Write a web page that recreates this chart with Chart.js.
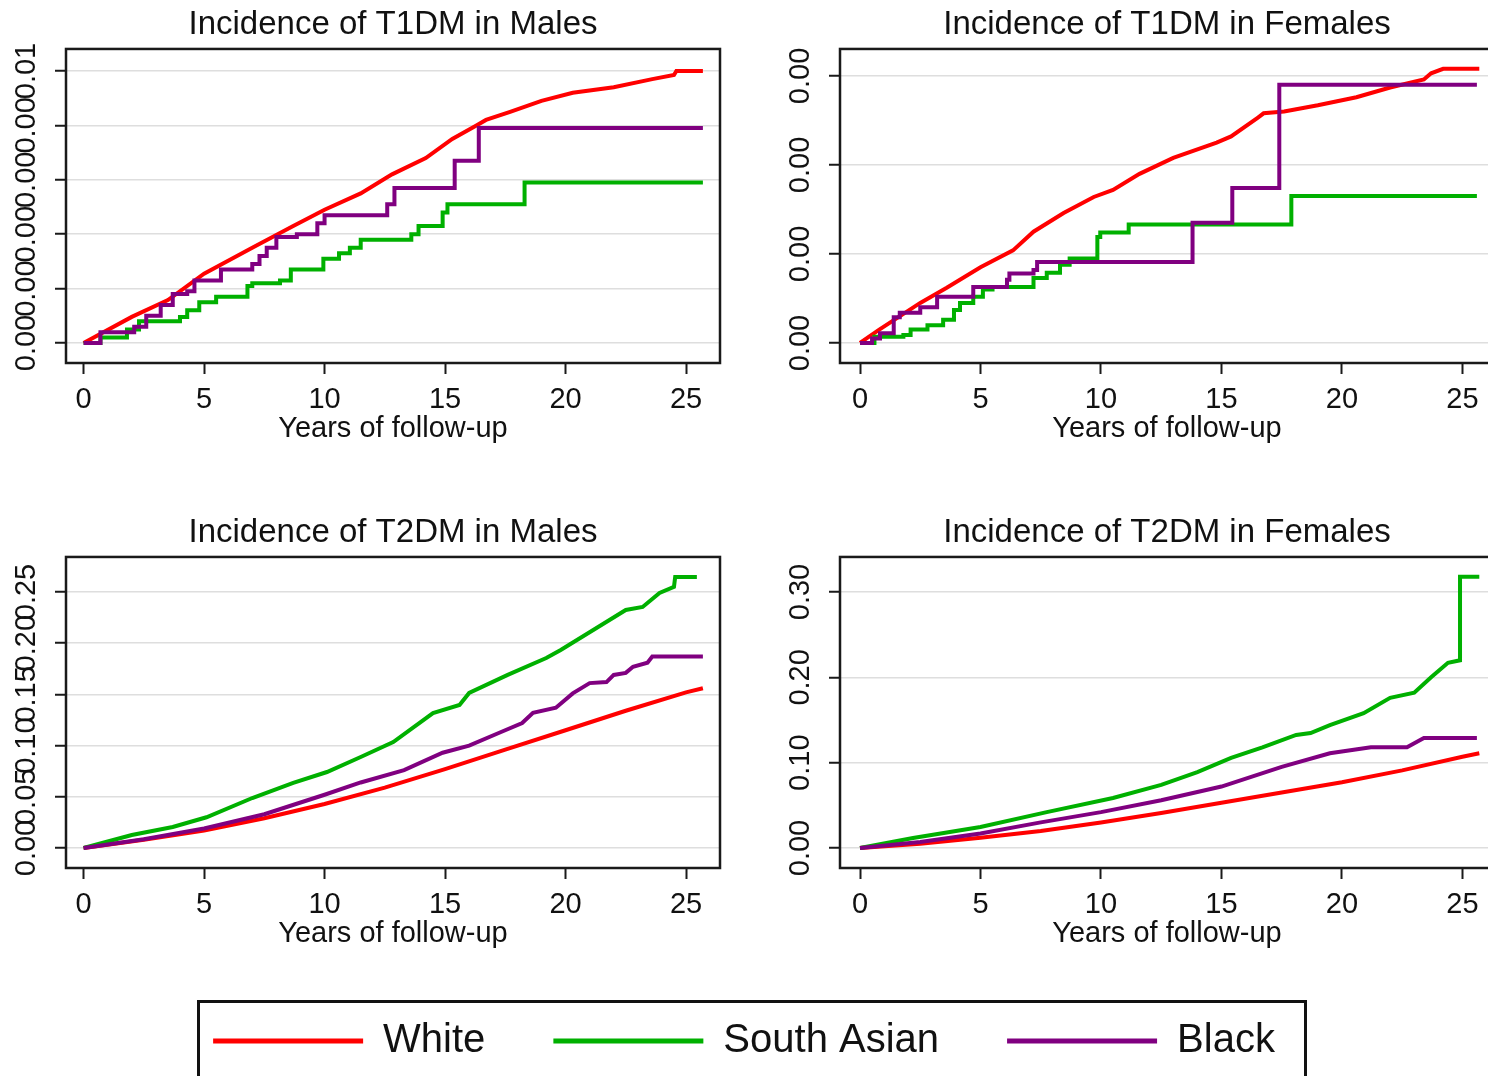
<!DOCTYPE html>
<html>
<head>
<meta charset="utf-8">
<title>Incidence of T1DM and T2DM</title>
<script src="https://cdn.jsdelivr.net/npm/chart.js"></script>
<style>
  html, body { margin: 0; padding: 0; background: #fff; }
  body { position: relative; width: 1488px; height: 1076px; overflow: hidden; }
  canvas { position: absolute; }
  #legendBox { position: absolute; left: 197px; top: 1000px; width: 1110px; height: 100px;
               border: 3px solid #111; box-sizing: border-box; }
</style>
</head>
<body>
<div id="legendBox"></div>
<canvas id="t1m" width="740" height="450" style="left:0;top:0"></canvas>
<canvas id="t1f" width="730" height="450" style="left:774px;top:0"></canvas>
<canvas id="t2m" width="740" height="447" style="left:0;top:508px"></canvas>
<canvas id="t2f" width="730" height="447" style="left:774px;top:508px"></canvas>
<canvas id="legend" width="1488" height="400" style="left:0;top:953px"></canvas>
<script>
var FONT = "'Liberation Sans', Arial, sans-serif";
var RED = '#ff0000', GREEN = '#00b000', PURPLE = '#800080';

var groups = ['White', 'South Asian', 'Black'];
var xTicks = [0, 5, 10, 15, 20, 25];

// T1DM, males
var t1mWhiteT = [0, 2, 3.5, 5, 7, 8.7, 10, 11.5, 12.8, 14.2, 15.3, 16.3, 16.7, 17.7, 19, 20.3, 22, 23.6, 24.5, 24.6, 25.7];
var t1mWhiteV = [0, 0.00096, 0.00158, 0.00255, 0.0035, 0.0043, 0.0049, 0.0055, 0.0062, 0.0068, 0.0075, 0.0080, 0.0082, 0.0085, 0.0089, 0.0092, 0.0094, 0.0097, 0.00985, 0.0100, 0.0100];
var t1mAsianT = [0, 0.7, 1.8, 2.3, 4.0, 4.3, 4.8, 5.5, 6.8, 7.0, 8.15, 8.6, 9.95, 10.6, 11.05, 11.5, 13.6, 13.9, 14.9, 15.1, 18.3, 25.7];
var t1mAsianV = [0, 0.0002, 0.0005, 0.0008, 0.00096, 0.0012, 0.0015, 0.0017, 0.0021, 0.0022, 0.0023, 0.0027, 0.0031, 0.0033, 0.0035, 0.0038, 0.0040, 0.0043, 0.0048, 0.0051, 0.0059, 0.0059];
var t1mBlackT = [0, 0.7, 2.1, 2.6, 3.2, 3.7, 4.3, 4.6, 5.7, 7.0, 7.3, 7.6, 8.0, 8.85, 9.7, 10.0, 12.6, 12.9, 15.4, 16.4, 25.7];
var t1mBlackV = [0, 0.0004, 0.0006, 0.0010, 0.0014, 0.0018, 0.0019, 0.0023, 0.0027, 0.0029, 0.0032, 0.0035, 0.0039, 0.0040, 0.0044, 0.0047, 0.0051, 0.0057, 0.0067, 0.0079, 0.0079];
var t1mYTicks = [0, 0.002, 0.004, 0.006, 0.008, 0.010];
var t1mYLabels = ['0.00', '0.00', '0.00', '0.00', '0.00', '0.01'];

// T1DM, females
var t1fWhiteT = [0, 0.8, 2.5, 3.6, 5, 6.35, 7.2, 8.45, 9.7, 10.5, 11.6, 13, 14.8, 15.4, 16.5, 16.75, 17.6, 19, 20.6, 22, 23.4, 23.7, 24.2, 25.7];
var t1fWhiteV = [0, 0.00015, 0.00045, 0.00062, 0.00085, 0.00104, 0.00125, 0.00146, 0.00164, 0.00172, 0.0019, 0.00208, 0.00225, 0.00232, 0.00253, 0.00258, 0.0026, 0.00267, 0.00276, 0.00287, 0.00296, 0.00303, 0.00308, 0.00308];
var t1fAsianT = [0, 0.6, 1.8, 2.1, 2.8, 3.45, 3.9, 4.15, 4.7, 5.1, 5.5, 7.2, 7.75, 8.3, 8.7, 9.85, 9.97, 11.15, 17.9, 25.6];
var t1fAsianV = [0, 0.00007, 0.00009, 0.00015, 0.0002, 0.00026, 0.00037, 0.00045, 0.00052, 0.0006, 0.00063, 0.00073, 0.00079, 0.00088, 0.00095, 0.00119, 0.00124, 0.00133, 0.00165, 0.00165];
var t1fBlackT = [0, 0.5, 0.83, 1.4, 1.65, 2.5, 3.2, 4.7, 6.1, 6.2, 7.2, 7.35, 13.8, 15.45, 17.4, 25.6];
var t1fBlackV = [0, 0.00005, 0.00011, 0.00029, 0.00034, 0.0004, 0.00052, 0.00063, 0.00071, 0.00078, 0.00082, 0.00091, 0.00135, 0.00174, 0.0029, 0.0029];
var t1fYTicks = [0, 0.001, 0.002, 0.003];
var t1fYLabels = ['0.00', '0.00', '0.00', '0.00'];

// T2DM, males
var t2mWhiteT = [0, 2.5, 5, 7.5, 10, 12.5, 15, 17.5, 20, 22.5, 25, 25.7];
var t2mWhiteV = [0, 0.008, 0.017, 0.029, 0.043, 0.059, 0.077, 0.096, 0.115, 0.134, 0.152, 0.156];
var t2mAsianT = [0, 2, 3.7, 5.1, 7, 8.7, 10.1, 11.5, 12.85, 14.5, 15.6, 16, 17.6, 19.2, 19.8, 21.15, 22.5, 23.2, 23.9, 24.5, 24.55, 25.45];
var t2mAsianV = [0, 0.0127, 0.0205, 0.030, 0.0488, 0.0635, 0.0742, 0.0889, 0.1035, 0.1318, 0.1397, 0.1514, 0.169, 0.1855, 0.1934, 0.2129, 0.2324, 0.2354, 0.249, 0.255, 0.2647, 0.2647];
var t2mBlackT = [0, 2.5, 5, 7.5, 10, 11.5, 13.3, 14.9, 16, 17.3, 18.2, 18.65, 19.6, 20.3, 21, 21.7, 22, 22.5, 22.8, 23.4, 23.6, 25.7];
var t2mBlackV = [0, 0.0085, 0.019, 0.033, 0.052, 0.064, 0.076, 0.093, 0.100, 0.113, 0.122, 0.132, 0.137, 0.151, 0.161, 0.162, 0.169, 0.171, 0.177, 0.181, 0.187, 0.187];
var t2mYTicks = [0, 0.05, 0.10, 0.15, 0.20, 0.25];
var t2mYLabels = ['0.00', '0.05', '0.10', '0.15', '0.20', '0.25'];

// T2DM, females
var t2fWhiteT = [0, 2.5, 5, 7.5, 10, 12.5, 15, 17.5, 20, 22.5, 25, 25.7];
var t2fWhiteV = [0, 0.005, 0.012, 0.020, 0.030, 0.041, 0.053, 0.065, 0.077, 0.091, 0.107, 0.111];
var t2fAsianT = [0, 2.2, 5, 7.75, 10.5, 12.5, 14, 15.4, 16.7, 18.1, 18.7, 19.5, 20.9, 22.0, 23.0, 23.7, 24.4, 24.9, 24.9, 25.7];
var t2fAsianV = [0, 0.0117, 0.0246, 0.042, 0.0586, 0.074, 0.089, 0.1055, 0.118, 0.1325, 0.1348, 0.144, 0.158, 0.176, 0.182, 0.2, 0.217, 0.22, 0.318, 0.318];
var t2fBlackT = [0, 2.5, 5, 7.5, 10, 12.5, 15, 17.5, 19.5, 21.2, 22.7, 23.4, 25.6];
var t2fBlackV = [0, 0.007, 0.017, 0.030, 0.042, 0.056, 0.072, 0.095, 0.111, 0.118, 0.118, 0.129, 0.129];
var t2fYTicks = [0, 0.10, 0.20, 0.30];
var t2fYLabels = ['0.00', '0.10', '0.20', '0.30'];


function pts(t, v) {
  return t.map(function(x, i) { return {x: x, y: v[i]}; });
}

function line(label, color, t, v, stepped, order) {
  return {
    label: label,
    data: pts(t, v),
    borderColor: color,
    backgroundColor: color,
    borderWidth: 4,
    pointRadius: 0,
    stepped: stepped,
    order: order
  };
}

// box round the plot area
var framePlugin = {
  id: 'frame',
  afterDatasetsDraw: function(chart) {
    var a = chart.chartArea, ctx = chart.ctx;
    ctx.save();
    ctx.strokeStyle = '#1a1a1a';
    ctx.lineWidth = 2.5;
    ctx.strokeRect(a.left, a.top, a.right - a.left, a.bottom - a.top);
    ctx.restore();
  }
};

function panel(id, title, datasets, xMin, xMax, yMin, yMax, yTicks, yLabels, padRight) {
  return new Chart(document.getElementById(id), {
    type: 'line',
    data: { datasets: datasets },
    plugins: [framePlugin],
    options: {
      responsive: false,
      animation: false,
      events: [],
      layout: { padding: { left: 0, right: padRight, top: 0, bottom: 0 } },
      plugins: {
        legend: { display: false },
        tooltip: { enabled: false },
        title: {
          display: true,
          text: title,
          fullSize: false,
          color: '#111',
          font: { family: FONT, size: 33, weight: 'normal', lineHeight: 1.12 },
          padding: { top: 6, bottom: 6 }
        }
      },
      scales: {
        x: {
          type: 'linear',
          min: xMin,
          max: xMax,
          afterBuildTicks: function(s) { s.ticks = xTicks.map(function(v) { return {value: v}; }); },
          afterFit: function(s) { s.height = 87; },
          border: { display: false },
          grid: { drawOnChartArea: false, tickLength: 11, tickColor: '#1a1a1a', tickWidth: 2 },
          ticks: { color: '#111', padding: 9, maxRotation: 0, font: { family: FONT, size: 29 } },
          title: {
            display: true,
            text: 'Years of follow-up',
            color: '#111',
            font: { family: FONT, size: 29, lineHeight: 1 },
            padding: { top: 0, bottom: 7 }
          }
        },
        y: {
          type: 'linear',
          min: yMin,
          max: yMax,
          afterBuildTicks: function(s) { s.ticks = yTicks.map(function(v) { return {value: v}; }); },
          afterFit: function(s) { s.width = 66; },
          border: { display: false },
          grid: { color: '#dedede', lineWidth: 1.5, tickLength: 11, tickColor: '#1a1a1a', tickWidth: 2 },
          ticks: {
            color: '#111',
            minRotation: 90,
            maxRotation: 90,
            crossAlign: 'center',
            padding: 0,
            autoSkip: false,
            font: { family: FONT, size: 29 },
            callback: function(v, i) { return yLabels[i]; }
          }
        }
      }
    }
  });
}

panel('t1m', 'Incidence of T1DM in Males', [
  line(groups[0], RED, t1mWhiteT, t1mWhiteV, false, 3),
  line(groups[1], GREEN, t1mAsianT, t1mAsianV, true, 2),
  line(groups[2], PURPLE, t1mBlackT, t1mBlackV, true, 1)
], -0.73, 26.41, -0.000735, 0.01081, t1mYTicks, t1mYLabels, 20);

panel('t1f', 'Incidence of T1DM in Females', [
  line(groups[0], RED, t1fWhiteT, t1fWhiteV, false, 3),
  line(groups[1], GREEN, t1fAsianT, t1fAsianV, true, 2),
  line(groups[2], PURPLE, t1fBlackT, t1fBlackV, true, 1)
], -0.83, 26.31, -0.000225, 0.003303, t1fYTicks, t1fYLabels, 10);

panel('t2m', 'Incidence of T2DM in Males', [
  line(groups[0], RED, t2mWhiteT, t2mWhiteV, false, 3),
  line(groups[1], GREEN, t2mAsianT, t2mAsianV, false, 2),
  line(groups[2], PURPLE, t2mBlackT, t2mBlackV, false, 1)
], -0.73, 26.41, -0.01953, 0.2842, t2mYTicks, t2mYLabels, 20);

panel('t2f', 'Incidence of T2DM in Females', [
  line(groups[0], RED, t2fWhiteT, t2fWhiteV, false, 3),
  line(groups[1], GREEN, t2fAsianT, t2fAsianV, false, 2),
  line(groups[2], PURPLE, t2fBlackT, t2fBlackV, false, 1)
], -0.83, 26.31, -0.02345, 0.3411, t2fYTicks, t2fYLabels, 10);

// shared legend (canvas is tall so the legend box is not clipped; the page cuts it)
new Chart(document.getElementById('legend'), {
  type: 'line',
  data: {
    datasets: [
      { label: groups[0], data: [], borderColor: RED, backgroundColor: RED, borderWidth: 0 },
      { label: groups[1], data: [], borderColor: GREEN, backgroundColor: GREEN, borderWidth: 0 },
      { label: groups[2], data: [], borderColor: PURPLE, backgroundColor: PURPLE, borderWidth: 0 }
    ]
  },
  options: {
    responsive: false,
    animation: false,
    events: [],
    layout: { padding: 0 },
    scales: { x: { display: false }, y: { display: false } },
    plugins: {
      tooltip: { enabled: false },
      legend: {
        display: true,
        position: 'top',
        labels: {
          color: '#111',
          boxWidth: 150,
          boxHeight: 5,
          padding: 68,
          font: { family: FONT, size: 40 }
        }
      }
    }
  }
});
</script>
</body>
</html>
